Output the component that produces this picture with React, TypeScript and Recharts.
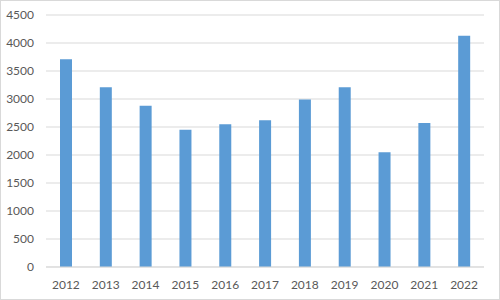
import React from 'react';
import { BarChart, Bar, XAxis, YAxis, CartesianGrid } from 'recharts';

const years = ['2012', '2013', '2014', '2015', '2016', '2017', '2018', '2019', '2020', '2021', '2022'];
const values = [3710, 3210, 2880, 2450, 2550, 2620, 2990, 3210, 2050, 2570, 4130];
const yTicks = [0, 500, 1000, 1500, 2000, 2500, 3000, 3500, 4000, 4500];

const data = years.map((year, i) => ({ year, value: values[i] }));

const tickStyle = { fill: '#595959', fontSize: 12, fontFamily: 'Lato, "Liberation Sans", sans-serif' };

export default function App() {
  return (
    <div style={{ position: 'absolute', left: 0, top: 0, width: 500, height: 300, background: '#fff' }}>
      <BarChart width={500} height={300} data={data} margin={{ top: 15, right: 16, bottom: 0, left: 0 }}>
        <CartesianGrid vertical={false} stroke="#D9D9D9" />
        <XAxis
          dataKey="year"
          height={33}
          tickLine={false}
          tickMargin={7}
          axisLine={{ stroke: '#D9D9D9' }}
          tick={tickStyle}
        />
        <YAxis
          width={46}
          domain={[0, 4500]}
          ticks={yTicks}
          axisLine={false}
          tickLine={false}
          tickMargin={6}
          tick={tickStyle}
        />
        <Bar dataKey="value" fill="#5B9BD5" barSize={12} isAnimationActive={false} />
      </BarChart>
      {/* chart frame */}
      <div
        style={{
          position: 'absolute',
          inset: 0,
          border: '1px solid #D9D9D9',
          boxSizing: 'border-box',
          pointerEvents: 'none',
        }}
      />
    </div>
  );
}
